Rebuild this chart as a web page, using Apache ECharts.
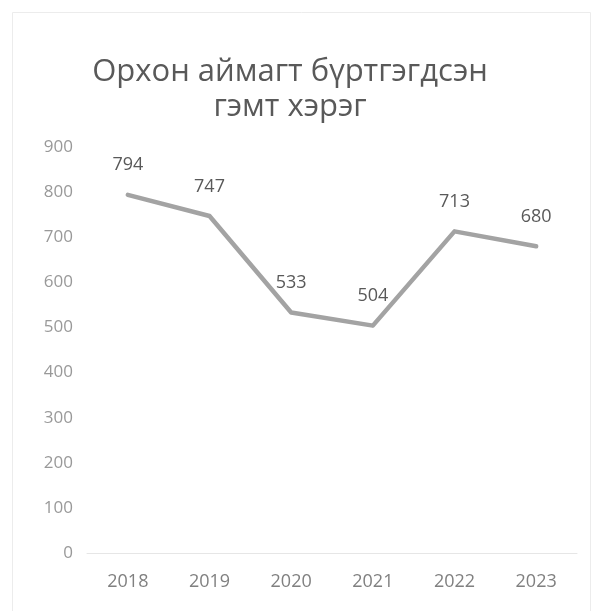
<!DOCTYPE html>
<html>
<head>
<meta charset="utf-8">
<script src="https://cdn.jsdelivr.net/npm/echarts@6/dist/echarts.min.js"></script>
<style>
html,body{margin:0;padding:0;background:#fff;}
#c{width:602px;height:611px;}
</style>
</head>
<body>
<div id="c"></div>
<script>
var titleText = 'Орхон аймагт бүртгэгдсэн\nгэмт хэрэг';
var years = ['2018', '2019', '2020', '2021', '2022', '2023'];
var crimes = [794, 747, 533, 504, 713, 680];
var yTicks = { min: 0, max: 900, interval: 100 };

var chart = echarts.init(document.getElementById('c'), null, { renderer: 'canvas' });
var font = 'Open Sans, Noto Sans, sans-serif';
chart.setOption({
  backgroundColor: '#ffffff',
  animation: false,
  title: {
    text: titleText,
    left: 285,
    textAlign: 'center',
    top: 50,
    textStyle: { fontFamily: font, fontSize: 31, fontWeight: 'normal', color: '#595959', lineHeight: 35 }
  },
  graphic: [{
    type: 'rect',
    shape: { x: 12.5, y: 12.5, width: 578, height: 620 },
    style: { fill: 'none', stroke: '#ececec', lineWidth: 1 },
    silent: true
  }],
  grid: { left: 87, right: 25, top: 147, bottom: 58, containLabel: false },
  xAxis: {
    type: 'category',
    data: years,
    boundaryGap: true,
    axisLine: { show: true, lineStyle: { color: '#e6e6e6', width: 1 } },
    axisTick: { show: false },
    axisLabel: { color: '#808080', fontFamily: font, fontSize: 18, margin: 20 }
  },
  yAxis: {
    type: 'value',
    min: yTicks.min, max: yTicks.max, interval: yTicks.interval,
    axisLine: { show: false },
    axisTick: { show: false },
    splitLine: { show: false },
    axisLabel: { color: '#999999', fontFamily: font, fontSize: 17, margin: 14 }
  },
  series: [{
    type: 'line',
    data: crimes,
    symbol: 'circle',
    symbolSize: 1,
    showSymbol: true,
    itemStyle: { color: '#a3a3a3', opacity: 0 },
    lineStyle: { color: '#a3a3a3', width: 4.5, cap: 'round', join: 'round' },
    label: {
      show: true, position: 'top', distance: 20, opacity: 1,
      color: '#595959', fontFamily: font, fontSize: 18
    }
  }]
});
</script>
</body>
</html>
